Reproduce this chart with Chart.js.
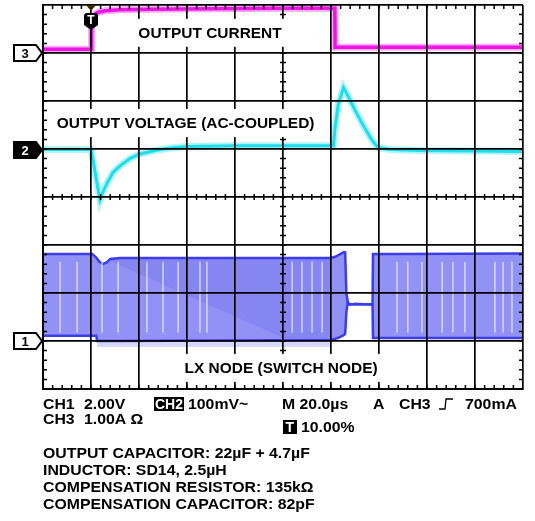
<!DOCTYPE html>
<html>
<head>
<meta charset="utf-8">
<script src="https://cdn.jsdelivr.net/npm/chart.js@4.4.1/dist/chart.umd.min.js"></script>
<style>
  html, body { margin: 0; padding: 0; background: #fff; }
  canvas { display: block; }
</style>
</head>
<body>
<canvas id="scope" width="535" height="521"></canvas>
<script>
// time base 20us/div, trigger one division in from the left
const timeMin = -20, timeMax = 180, timeStep = 20;
const divMin = -4, divMax = 4;

// CH3: output current (A)
const ch3Time = [-20, 0, 0.2, 0.6, 1.5, 3, 6, 12, 25, 50, 80, 101.6, 101.7, 130, 180];
const ch3Amps = [0.08, 0.08, 0.62, 0.74, 0.8, 0.85, 0.88, 0.9, 0.91, 0.92, 0.93, 0.93, 0.12, 0.12, 0.12];

// CH2: output voltage, AC coupled (mV)
const ch2Time = [-20, 0, 0.8, 2.1, 3.75, 5, 6.7, 9.2, 12.1, 16.2, 20, 26.7, 33, 40, 62, 101, 101.6, 103, 105.2, 106.2, 110, 114, 117, 119.6, 124.6, 137, 180];
const ch2MilliVolts = [-1, -1, -22, -60, -106, -89, -71, -49, -35, -20, -11, -3, 2, 5, 7, 7, 40, 92, 128, 119, 81, 44, 19, 3, -1, -3, -5];

// CH1: LX node, switching envelope (V)
const ch1HighTime = [-20, 0.5, 2, 3.5, 5, 6.5, 8, 12, 99.6, 101.5, 103.5, 105.4, 105.9, 106.4, 107, 107.6, 110, 117.3, 117.5, 130, 180];
const ch1High = [3.63, 3.63, 3.5, 3.3, 3.21, 3.27, 3.42, 3.46, 3.46, 3.5, 3.6, 3.71, 3.7, 2.0, 1.62, 1.52, 1.54, 1.52, 3.63, 3.63, 3.65];
const ch1LowTime = [-20, 2.2, 2.6, 12, 99.6, 101.5, 103.5, 105.4, 105.9, 106.4, 107, 107.6, 110, 117.3, 117.5, 130, 180];
const ch1Low = [0.22, 0.22, 0.0, 0.0, 0.04, 0.08, 0.15, 0.25, 0.3, 1.2, 1.62, 1.52, 1.54, 1.52, 0.13, 0.13, 0.12];
// lower edge of the denser (darker) switching patch
const ch1DenseTime = [7.9, 82.9, 99.6];
const ch1DenseLow = [3.33, 0.0, 0.04];
// spikes under the low level
const ch1SpikeTime = [2.6, 100];
const ch1SpikeLow = [-0.25, -0.25];
// missed-pulse gaps seen as pale stripes in the persistence band
const ch1GapTime = [-12.9, -5.8, 4.6, 11.3, 23.3, 30, 36.3, 45.4, 48.3, 83.8, 87.9, 92.1, 96.3, 127.5, 132, 137.9, 146.3, 150.8, 155.8, 168.3, 171.7, 175.4];
const ch1GapTop = 3.3, ch1GapBottom = 0.35;

// channel settings: units per div and ground marker position (div)
const ch1PerDiv = 2.0, ch1Ground = -3;
const ch2PerDiv = 100, ch2Ground = 1;
const ch3PerDiv = 1.0, ch3Ground = 3;

function toPoints(times, values, perDiv, ground) {
	return times.map((t, i) => ({ x: t, y: values[i] / perDiv + ground }));
}

function gapSegments(times, top, bottom, perDiv, ground) {
	const pts = [];
	times.forEach((t) => {
		pts.push({ x: t, y: top / perDiv + ground });
		pts.push({ x: t, y: bottom / perDiv + ground });
		pts.push({ x: t, y: null });
	});
	return pts;
}

const FONT = "'Liberation Sans', Arial, sans-serif";

function stretchText(ctx, text, x, y, sx) {
	ctx.save();
	ctx.translate(x, y);
	ctx.scale(sx, 1);
	ctx.fillText(text, 0, 0);
	ctx.restore();
}

function marker(ctx, label, cy, inverted) {
	ctx.beginPath();
	ctx.moveTo(14, cy - 8);
	ctx.lineTo(36, cy - 8);
	ctx.lineTo(42, cy);
	ctx.lineTo(36, cy + 8);
	ctx.lineTo(14, cy + 8);
	ctx.closePath();
	ctx.fillStyle = inverted ? "#000" : "#fff";
	ctx.fill();
	ctx.lineWidth = 2;
	ctx.strokeStyle = "#000";
	ctx.stroke();
	ctx.fillStyle = inverted ? "#fff" : "#000";
	ctx.font = "bold 13px " + FONT;
	ctx.textAlign = "center";
	ctx.textBaseline = "middle";
	ctx.fillText(label, 25, cy + 1);
}

function boxedLabel(ctx, text, cx, cy) {
	ctx.font = "bold 15px " + FONT;
	const w = ctx.measureText(text).width * 1.03;
	ctx.fillStyle = "#fff";
	ctx.fillRect(cx - w / 2 - 6, cy - 14, w + 12, 28);
	ctx.fillStyle = "#000";
	ctx.textAlign = "left";
	ctx.textBaseline = "middle";
	stretchText(ctx, text, cx - w / 2, cy + 1, 1.03);
}

const scopeDecor = {
	id: "scopeDecor",
	afterDraw(chart) {
		const { ctx, chartArea: a, scales: { x, y } } = chart;
		const cx = x.getPixelForValue(80);
		const cy = y.getPixelForValue(0);
		ctx.save();
		ctx.strokeStyle = "#000";
		ctx.lineWidth = 1.5;
		ctx.beginPath();
		for (let t = timeMin + 4; t < timeMax; t += 4) {
			const px = x.getPixelForValue(t);
			ctx.moveTo(px, a.top); ctx.lineTo(px, a.top + 4);
			ctx.moveTo(px, a.bottom); ctx.lineTo(px, a.bottom - 4);
			ctx.moveTo(px, cy - 3); ctx.lineTo(px, cy + 3);
		}
		for (let d = divMin + 0.2; d < divMax - 0.1; d += 0.2) {
			const py = y.getPixelForValue(d);
			ctx.moveTo(a.left, py); ctx.lineTo(a.left + 4, py);
			ctx.moveTo(a.right, py); ctx.lineTo(a.right - 4, py);
			ctx.moveTo(cx - 3, py); ctx.lineTo(cx + 3, py);
		}
		ctx.stroke();

		// trace labels
		boxedLabel(ctx, "OUTPUT CURRENT", x.getPixelForValue(49.6), y.getPixelForValue(3.42));
		boxedLabel(ctx, "OUTPUT VOLTAGE (AC-COUPLED)", x.getPixelForValue(39.4), y.getPixelForValue(1.54));
		boxedLabel(ctx, "LX NODE (SWITCH NODE)", x.getPixelForValue(79.2), y.getPixelForValue(-3.56));

		// channel ground markers
		marker(ctx, "3", y.getPixelForValue(ch3Ground), false);
		marker(ctx, "2", y.getPixelForValue(ch2Ground) + 1, true);
		marker(ctx, "1", y.getPixelForValue(ch1Ground), false);

		// trigger position marker
		const tx = x.getPixelForValue(0);
		ctx.fillStyle = "#3a2600";
		ctx.beginPath();
		ctx.moveTo(tx - 5, a.top); ctx.lineTo(tx + 5, a.top); ctx.lineTo(tx, a.top + 6);
		ctx.closePath(); ctx.fill();
		ctx.fillStyle = "#000";
		ctx.beginPath();
		ctx.moveTo(tx - 7, a.top + 11);
		ctx.quadraticCurveTo(tx - 7, a.top + 8, tx - 4, a.top + 8);
		ctx.lineTo(tx + 4, a.top + 8);
		ctx.quadraticCurveTo(tx + 7, a.top + 8, tx + 7, a.top + 11);
		ctx.lineTo(tx + 7, a.top + 20);
		ctx.lineTo(tx, a.top + 25);
		ctx.lineTo(tx - 7, a.top + 20);
		ctx.closePath(); ctx.fill();
		ctx.fillStyle = "#fff";
		ctx.font = "bold 12px " + FONT;
		ctx.textAlign = "center";
		ctx.textBaseline = "middle";
		ctx.fillText("T", tx, a.top + 16);

		// readout
		ctx.textAlign = "left";
		ctx.textBaseline = "alphabetic";
		ctx.font = "bold 14px " + FONT;
		const sx = 1.13;
		ctx.fillStyle = "#000";
		stretchText(ctx, "CH1", 43, 409, sx);
		stretchText(ctx, "2.00V", 84, 409, sx);
		ctx.fillRect(154, 397, 30, 14);
		ctx.fillStyle = "#fff";
		stretchText(ctx, "CH2", 155, 409, 1.0);
		ctx.fillStyle = "#000";
		stretchText(ctx, "100mV~", 188, 409, sx);
		stretchText(ctx, "M 20.0µs", 282, 409, sx);
		stretchText(ctx, "A", 373, 409, sx);
		stretchText(ctx, "CH3", 399, 409, sx);
		ctx.beginPath();
		ctx.lineWidth = 1.3;
		ctx.moveTo(439, 409); ctx.lineTo(445, 409); ctx.lineTo(446, 399); ctx.lineTo(453, 399);
		ctx.stroke();
		stretchText(ctx, "700mA", 465, 409, sx);
		stretchText(ctx, "CH3", 43, 424, sx);
		stretchText(ctx, "1.00A Ω", 84, 424, sx);
		ctx.fillRect(283, 420, 14, 14);
		ctx.fillStyle = "#fff";
		stretchText(ctx, "T", 285.5, 432, 1.0);
		ctx.fillStyle = "#000";
		stretchText(ctx, "10.00%", 301, 432, sx);

		stretchText(ctx, "OUTPUT CAPACITOR: 22µF + 4.7µF", 43, 458, sx);
		stretchText(ctx, "INDUCTOR: SD14, 2.5µH", 43, 475, sx);
		stretchText(ctx, "COMPENSATION RESISTOR: 135kΩ", 43, 492, sx);
		stretchText(ctx, "COMPENSATION CAPACITOR: 82pF", 43, 509, sx);
		ctx.restore();
	},
};

const magenta = "rgb(238, 20, 228)";
const cyan = "rgb(30, 222, 236)";
const blueEdge = "rgb(60, 60, 232)";

new Chart(document.getElementById("scope"), {
	type: "line",
	data: {
		datasets: [
			{ data: toPoints(ch3Time, ch3Amps, ch3PerDiv, ch3Ground), borderColor: magenta, borderWidth: 3.5 },
			{ data: toPoints(ch3Time, ch3Amps, ch3PerDiv, ch3Ground), borderColor: "rgba(238, 20, 228, 0.35)", borderWidth: 7 },
			{ data: toPoints(ch2Time, ch2MilliVolts, ch2PerDiv, ch2Ground), borderColor: cyan, borderWidth: 3 },
			{ data: toPoints(ch2Time, ch2MilliVolts, ch2PerDiv, ch2Ground), borderColor: "rgba(30, 222, 236, 0.35)", borderWidth: 7 },
			{ data: gapSegments(ch1GapTime, ch1GapTop, ch1GapBottom, ch1PerDiv, ch1Ground), borderColor: "rgba(236, 236, 255, 0.75)", borderWidth: 1.5, spanGaps: false },
			{ data: toPoints(ch1DenseTime, ch1DenseLow, ch1PerDiv, ch1Ground), borderWidth: 0, borderColor: "rgba(0,0,0,0)", fill: 7, backgroundColor: "rgba(90, 90, 235, 0.2)" },
			{ data: toPoints(ch1SpikeTime, ch1SpikeLow, ch1PerDiv, ch1Ground), borderWidth: 0, borderColor: "rgba(0,0,0,0)", fill: 8, backgroundColor: "rgba(120, 120, 240, 0.3)" },
			{ data: toPoints(ch1HighTime, ch1High, ch1PerDiv, ch1Ground), borderColor: blueEdge, borderWidth: 2.5, fill: 8, backgroundColor: "rgb(146, 146, 246)" },
			{ data: toPoints(ch1LowTime, ch1Low, ch1PerDiv, ch1Ground), borderColor: blueEdge, borderWidth: 2.5 },
		],
	},
	options: {
		responsive: false,
		animation: false,
		events: [],
		elements: { point: { radius: 0 }, line: { tension: 0 } },
		layout: { padding: { left: 43, right: 12, top: 5, bottom: 132 } },
		plugins: {
			legend: { display: false },
			tooltip: { enabled: false },
			filler: { drawTime: "beforeDatasetsDraw" },
		},
		scales: {
			x: {
				type: "linear",
				min: timeMin,
				max: timeMax,
				ticks: { display: false, stepSize: timeStep },
				grid: { color: "#000", lineWidth: 1.7, drawTicks: false, z: 1 },
				border: { color: "#000", width: 2, z: 1 },
			},
			y: {
				min: divMin,
				max: divMax,
				ticks: { display: false, stepSize: 1 },
				grid: { color: "#000", lineWidth: 1.7, drawTicks: false, z: 1 },
				border: { color: "#000", width: 2, z: 1 },
			},
		},
	},
	plugins: [scopeDecor],
});
</script>
</body>
</html>
